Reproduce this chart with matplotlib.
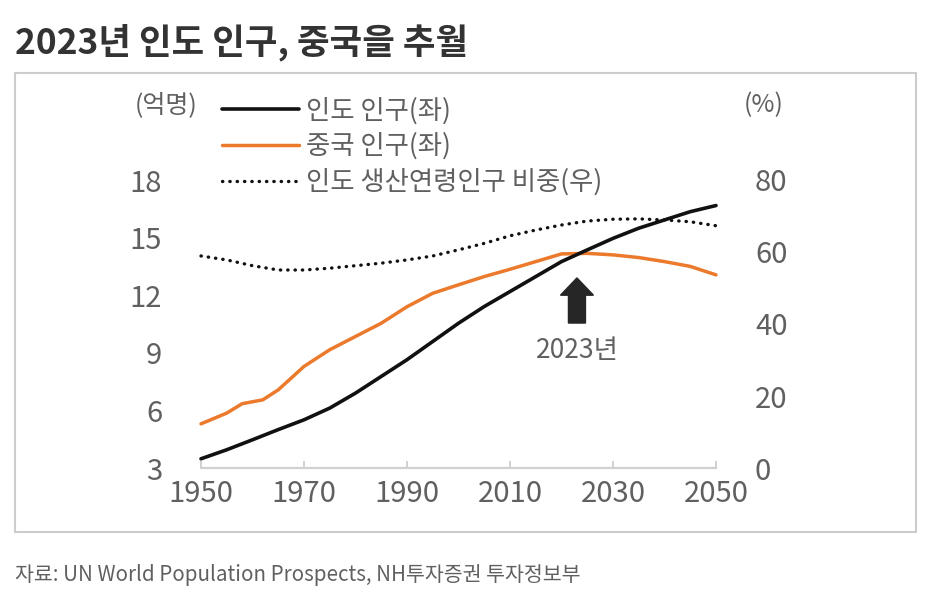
import matplotlib
matplotlib.use("Agg")
import matplotlib.pyplot as plt
from matplotlib.patches import Rectangle, FancyArrow

plt.rcParams['font.family'] = ['Noto Sans CJK KR', 'DejaVu Sans']

# ---- data ----
years = [1950, 1955, 1960, 1965, 1970, 1975, 1980, 1985, 1990, 1995, 2000,
         2005, 2010, 2015, 2020, 2025, 2030, 2035, 2040, 2045, 2050]
india_pop = [3.48, 3.95, 4.47, 5.00, 5.51, 6.12, 6.90, 7.77, 8.64, 9.59, 10.54,
             11.41, 12.19, 12.97, 13.75, 14.36, 14.96, 15.49, 15.92, 16.35, 16.67]
china_years = [1950, 1955, 1958, 1960, 1962, 1965, 1970, 1975, 1980, 1985, 1990,
               1995, 2000, 2005, 2010, 2015, 2020, 2025, 2030, 2035, 2040, 2045, 2050]
china_pop = [5.30, 5.86, 6.35, 6.45, 6.55, 7.07, 8.29, 9.16, 9.85, 10.54, 11.40,
             12.10, 12.54, 12.97, 13.35, 13.75, 14.15, 14.18, 14.10, 13.96, 13.75, 13.50, 13.06]
india_work_share = [58.9, 57.8, 56.2, 55.0, 55.0, 55.5, 56.2, 56.9, 57.8, 58.9, 60.6,
                    62.4, 64.5, 66.1, 67.5, 68.6, 69.1, 69.2, 68.9, 68.4, 67.3]

x_ticks = [1950, 1970, 1990, 2010, 2030, 2050]
left_ticks = [3, 6, 9, 12, 15, 18]
right_ticks = [0, 20, 40, 60, 80]

labels = ['인도 인구(좌)', '중국 인구(좌)', '인도 생산연령인구 비중(우)']
title = '2023년 인도 인구, 중국을 추월'
source = '자료: UN World Population Prospects, NH투자증권 투자정보부'
arrow_year = 2023
arrow_base = 10.55
arrow_tip = 12.9
arrow_text = '2023년'
arrow_text_y = 9.1

# ---- figure ----
W, H = 930, 592
fig = plt.figure(figsize=(W / 100, H / 100), dpi=100)

def fx(px):
    return px / W

def fy(py):
    return 1 - py / H

ax_left, ax_right, ax_top, ax_bottom = 201, 716, 180, 468
ax = fig.add_axes([fx(ax_left), fy(ax_bottom), fx(ax_right - ax_left), (ax_bottom - ax_top) / H])
ax2 = ax.twinx()

gray = '#606060'
orange = '#EB7A2C'
black = '#111111'
fam = ['Noto Sans CJK KR', 'DejaVu Sans']

l1, = ax.plot(years, india_pop, color=black, lw=2.6, clip_on=False, zorder=4,
              solid_capstyle='round')
l2, = ax.plot(china_years, china_pop, color=orange, lw=2.5, clip_on=False, zorder=3,
              solid_capstyle='round')
l3, = ax2.plot(years, india_work_share, color=black, lw=2.4, ls=(0, (0.1, 2.1)),
               clip_on=False, zorder=2, dash_capstyle='round')

ax.set_xlim(1950, 2050)
ax.set_ylim(3, 18)
ax2.set_ylim(0, 80)
ax.set_xticks(x_ticks)
ax.set_yticks(left_ticks)
ax2.set_yticks(right_ticks)

for a in (ax, ax2):
    for s in ('top', 'left', 'right', 'bottom'):
        a.spines[s].set_visible(False)
ax.spines['bottom'].set_visible(True)
ax.spines['bottom'].set_color('#d0d0d0')
ax.spines['bottom'].set_linewidth(1.6)

ax.tick_params(axis='x', direction='in', length=5, width=1.4, color='#d0d0d0',
               labelsize=21, labelcolor=gray, pad=8)
ax.tick_params(axis='y', length=0, labelsize=21, labelcolor=gray, pad=28)
ax2.tick_params(axis='y', length=0, labelsize=21, labelcolor=gray, pad=28)
for t in ax.get_yticklabels() + ax2.get_yticklabels() + ax.get_xticklabels():
    t.set_fontfamily(fam)

# arrow
arr = FancyArrow(arrow_year, arrow_base, 0, arrow_tip - arrow_base, width=3.3,
                 head_width=6.4, head_length=0.9, length_includes_head=True,
                 color='#262626', zorder=5)
ax.add_patch(arr)
ax.text(arrow_year, arrow_text_y, arrow_text, ha='center', va='center',
        fontsize=19, color=gray, zorder=5)

# legend
leg = fig.legend([l1, l2, l3], labels, loc='upper left',
                 bbox_to_anchor=(fx(222), fy(97)), bbox_transform=fig.transFigure,
                 frameon=False, fontsize=19, handlelength=2.9, handletextpad=0.3,
                 labelspacing=0.32, borderpad=0, borderaxespad=0)
for t in leg.get_texts():
    t.set_color(gray)

# axis unit labels
fig.text(fx(166), fy(105), '(억명)', ha='center', va='center', fontsize=18, color=gray)
fig.text(fx(764), fy(105), '(%)', ha='center', va='center', fontsize=18, color=gray)

# title & source
fig.text(fx(15), fy(42), title, ha='left', va='center', fontsize=25.5,
         fontweight='bold', color='#333333')
fig.text(fx(15), fy(575), source, ha='left', va='center', fontsize=14.8, color=gray)

# border box
fig.patches.append(Rectangle((fx(15), fy(532)), fx(916 - 15), (532 - 73) / H,
                             transform=fig.transFigure, fill=False,
                             edgecolor='#cccccc', lw=1.5))

fig.savefig('out.png', dpi=100)
